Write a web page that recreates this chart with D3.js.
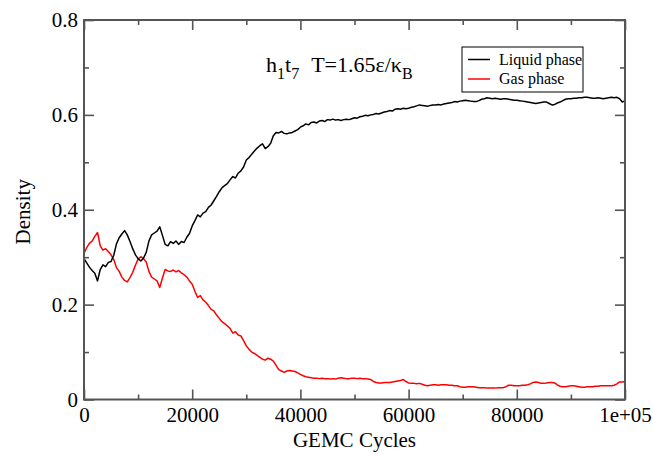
<!DOCTYPE html>
<html>
<head>
<meta charset="utf-8">
<script src="https://cdn.jsdelivr.net/npm/d3@7"></script>
<style>
  html, body { margin: 0; padding: 0; background: #fff; }
  svg { display: block; }
  svg text { font-family: 'Liberation Serif', 'Times New Roman', Tinos; }
</style>
</head>
<body>
<svg id="chart" width="653" height="454"></svg>
<script>
// ---- data (density every 500 GEMC cycles) ----
const cycleStep = 500;
const liquidDensity = [
  0.297,0.288,0.279,0.272,0.266,0.250,0.274,0.284,0.280,0.289,
  0.291,0.304,0.328,0.341,0.349,0.356,0.347,0.333,0.318,0.305,
  0.297,0.292,0.298,0.310,0.334,0.347,0.351,0.355,0.364,0.346,
  0.327,0.324,0.333,0.329,0.334,0.327,0.333,0.331,0.342,0.350,
  0.366,0.377,0.389,0.385,0.393,0.396,0.405,0.410,0.419,0.428,
  0.438,0.446,0.451,0.455,0.463,0.470,0.467,0.477,0.482,0.490,
  0.505,0.510,0.517,0.524,0.530,0.535,0.539,0.529,0.533,0.540,
  0.556,0.563,0.562,0.565,0.561,0.560,0.562,0.563,0.566,0.569,
  0.574,0.577,0.581,0.579,0.584,0.585,0.583,0.587,0.588,0.586,
  0.590,0.589,0.591,0.589,0.590,0.588,0.590,0.591,0.590,0.592,
  0.594,0.593,0.596,0.597,0.599,0.598,0.600,0.601,0.603,0.602,
  0.604,0.606,0.607,0.609,0.608,0.612,0.613,0.612,0.614,0.613,
  0.614,0.616,0.617,0.619,0.621,0.620,0.619,0.618,0.620,0.621,
  0.621,0.622,0.621,0.623,0.624,0.625,0.626,0.628,0.627,0.629,
  0.630,0.631,0.630,0.629,0.628,0.628,0.630,0.633,0.634,0.636,
  0.635,0.634,0.635,0.634,0.633,0.634,0.634,0.633,0.632,0.631,
  0.631,0.630,0.629,0.628,0.627,0.626,0.625,0.624,0.625,0.626,
  0.627,0.627,0.624,0.621,0.622,0.625,0.627,0.630,0.633,0.634,
  0.634,0.635,0.635,0.636,0.636,0.637,0.637,0.636,0.635,0.635,
  0.636,0.635,0.634,0.635,0.636,0.637,0.636,0.637,0.634,0.627,
  0.630
];
const gasDensity = [
  0.308,0.320,0.329,0.334,0.344,0.352,0.324,0.315,0.318,0.312,
  0.305,0.295,0.278,0.270,0.258,0.251,0.248,0.257,0.268,0.283,
  0.296,0.301,0.297,0.290,0.270,0.258,0.254,0.250,0.236,0.256,
  0.274,0.271,0.270,0.273,0.269,0.272,0.267,0.263,0.258,0.250,
  0.243,0.228,0.215,0.219,0.210,0.205,0.198,0.190,0.187,0.178,
  0.171,0.164,0.160,0.155,0.150,0.140,0.143,0.136,0.134,0.124,
  0.113,0.106,0.100,0.097,0.093,0.089,0.085,0.083,0.087,0.085,
  0.081,0.072,0.063,0.060,0.057,0.060,0.061,0.060,0.059,0.056,
  0.053,0.050,0.048,0.047,0.046,0.045,0.045,0.044,0.045,0.044,
  0.044,0.043,0.044,0.043,0.045,0.046,0.045,0.044,0.044,0.045,
  0.045,0.044,0.045,0.044,0.044,0.043,0.042,0.038,0.036,0.035,
  0.035,0.036,0.036,0.036,0.037,0.038,0.039,0.040,0.042,0.038,
  0.035,0.034,0.034,0.033,0.034,0.032,0.030,0.029,0.030,0.031,
  0.031,0.030,0.031,0.031,0.031,0.030,0.030,0.029,0.029,0.027,
  0.026,0.026,0.027,0.027,0.027,0.026,0.025,0.025,0.025,0.024,
  0.024,0.024,0.024,0.025,0.025,0.025,0.027,0.030,0.030,0.029,
  0.029,0.029,0.030,0.030,0.031,0.033,0.036,0.037,0.036,0.034,
  0.034,0.035,0.036,0.036,0.035,0.031,0.028,0.027,0.027,0.028,
  0.029,0.029,0.028,0.027,0.026,0.026,0.027,0.027,0.027,0.028,
  0.028,0.029,0.029,0.029,0.029,0.029,0.030,0.033,0.037,0.037,
  0.038
];
const xTicks = [0, 20000, 40000, 60000, 80000, 100000];
const xTickLabels = ["0", "20000", "40000", "60000", "80000", "1e+05"];
const xMinorTicks = [10000, 30000, 50000, 70000, 90000];
const yTicks = [0, 0.2, 0.4, 0.6, 0.8];
const yTickLabels = ["0", "0.2", "0.4", "0.6", "0.8"];
const yMinorTicks = [0.1, 0.3, 0.5, 0.7];
const seriesNames = ["Liquid phase", "Gas phase"];
const seriesColors = ["#000000", "#ff0000"];

// ---- layout ----
const FONT = "'Liberation Serif', 'Times New Roman', Tinos";
const svg = d3.select("#chart");
const m = { left: 84, right: 625, top: 20, bottom: 399.5 };
const x = d3.scaleLinear().domain([0, 100000]).range([m.left, m.right]);
const y = d3.scaleLinear().domain([0, 0.8]).range([m.bottom, m.top]);
const axisColor = "#555";

const series = [liquidDensity, gasDensity].map((vals, i) => ({
  name: seriesNames[i], color: seriesColors[i],
  pts: vals.map((v, k) => [k * cycleStep, v])
}));

const line = d3.line().x(d => x(d[0])).y(d => y(d[1]));
series.slice().reverse().forEach(s => {
  svg.append("path").datum(s.pts)
    .attr("fill", "none").attr("stroke", s.color)
    .attr("stroke-width", 1.5).attr("stroke-linejoin", "round")
    .attr("d", line);
});

function styleAxis(g) {
  g.attr("font-family", FONT).attr("font-size", 21);
  g.selectAll(".domain").remove();
  g.selectAll(".tick line").attr("stroke", axisColor).attr("stroke-width", 1.6);
  g.selectAll(".tick text")
    .attr("font-family", FONT)
    .style("font-family", FONT).style("font-size", "21px").attr("fill", "#000");
}
svg.append("g").attr("transform", `translate(0,${m.bottom})`)
  .call(d3.axisBottom(x).tickValues(xTicks).tickSize(-10).tickPadding(8)
    .tickFormat((d, i) => xTickLabels[i]))
  .call(styleAxis);
svg.append("g").attr("transform", `translate(0,${m.bottom})`)
  .call(d3.axisBottom(x).tickValues(xMinorTicks).tickSize(-5).tickFormat(""))
  .call(styleAxis);
svg.append("g").attr("transform", `translate(0,${m.top})`)
  .call(d3.axisTop(x).tickValues(xTicks).tickSize(-10).tickFormat("")).call(styleAxis);
svg.append("g").attr("transform", `translate(0,${m.top})`)
  .call(d3.axisTop(x).tickValues(xMinorTicks).tickSize(-5).tickFormat("")).call(styleAxis);

svg.append("g").attr("transform", `translate(${m.left},0)`)
  .call(d3.axisLeft(y).tickValues(yTicks).tickSize(-10).tickPadding(6)
    .tickFormat((d, i) => yTickLabels[i]))
  .call(styleAxis);
svg.append("g").attr("transform", `translate(${m.left},0)`)
  .call(d3.axisLeft(y).tickValues(yMinorTicks).tickSize(-5).tickFormat("")).call(styleAxis);
svg.append("g").attr("transform", `translate(${m.right},0)`)
  .call(d3.axisRight(y).tickValues(yTicks).tickSize(-10).tickFormat("")).call(styleAxis);
svg.append("g").attr("transform", `translate(${m.right},0)`)
  .call(d3.axisRight(y).tickValues(yMinorTicks).tickSize(-5).tickFormat("")).call(styleAxis);

svg.append("rect").attr("x", m.left).attr("y", m.top)
  .attr("width", m.right - m.left).attr("height", m.bottom - m.top)
  .attr("fill", "none").attr("stroke", axisColor).attr("stroke-width", 2);

// axis titles
svg.append("text").attr("x", (m.left + m.right) / 2).attr("y", 447)
  .attr("text-anchor", "middle").style("font-family", FONT).style("font-size", "21px")
  .text("GEMC Cycles");
svg.append("text").attr("transform", `translate(30,${(m.top + m.bottom) / 2 + 2}) rotate(-90)`)
  .attr("text-anchor", "middle").style("font-family", FONT).style("font-size", "21px")
  .text("Density");

// annotation
const ann = svg.append("text").attr("x", 266).attr("y", 72)
  .style("font-family", FONT).style("font-size", "22px");
ann.append("tspan").text("h");
ann.append("tspan").style("font-size", "16px").attr("dy", 7).text("1");
ann.append("tspan").attr("dy", -7).text("t");
ann.append("tspan").style("font-size", "16px").attr("dy", 7).text("7");
ann.append("tspan").attr("dy", -7).attr("dx", 12).text("T=1.65\u03b5/\u03ba");
ann.append("tspan").style("font-size", "16px").attr("dy", 7).text("B");

// legend
const lg = svg.append("g");
lg.append("rect").attr("x", 462).attr("y", 47).attr("width", 121).attr("height", 45)
  .attr("fill", "#fff").attr("stroke", "#000").attr("stroke-width", 1);
series.forEach((s, i) => {
  const ly = 59.5 + i * 19.5;
  lg.append("line").attr("x1", 468).attr("x2", 490).attr("y1", ly).attr("y2", ly)
    .attr("stroke", s.color).attr("stroke-width", 1.5);
  lg.append("text").attr("x", 499).attr("y", ly + 5)
    .style("font-family", FONT).style("font-size", "16px").text(s.name);
});
</script>
</body>
</html>
